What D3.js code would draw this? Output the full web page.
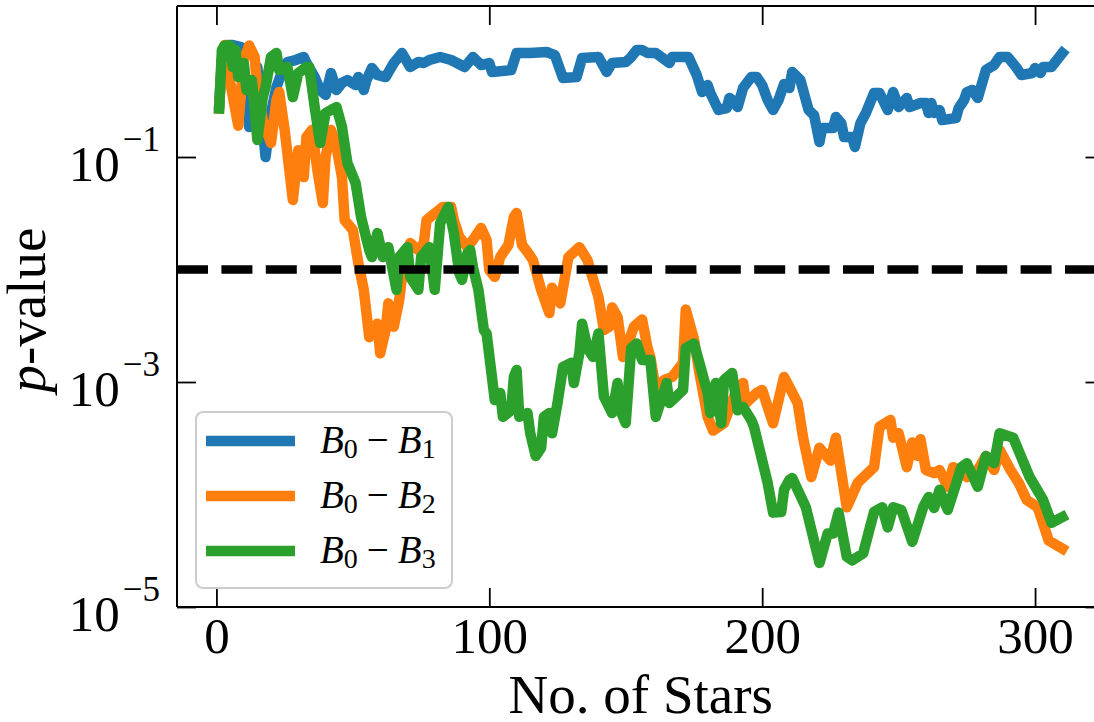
<!DOCTYPE html>
<html>
<head>
<meta charset="utf-8">
<script src="https://cdn.jsdelivr.net/npm/d3@7"></script>
<style>
  html, body { margin: 0; padding: 0; background: #ffffff; }
  svg { display: block; }
</style>
</head>
<body>
<svg id="chart" width="1094" height="722"></svg>
<script>
// p-value of each model comparison as a function of the number of stars used
const b0b1 = [[1,0.29],[2,0.73],[4,0.99],[6,0.99],[9,0.95],[10,0.66],[12,0.185],[13,0.262],[15,0.63],[16,0.321],[18,0.100],[20,0.246],[22,0.419],[24,0.570],[26,0.699],[29,0.728],[32,0.774],[33,0.685],[36,0.514],[38,0.394],[40,0.356],[42,0.558],[44,0.394],[46,0.455],[48,0.483],[51,0.436],[52,0.514],[54,0.394],[55,0.483],[57,0.618],[59,0.536],[62,0.514],[65,0.685],[68,0.84],[71,0.631],[74,0.699],[76,0.685],[78,0.728],[82,0.774],[86,0.728],[91,0.631],[94,0.774],[97,0.657],[100,0.685],[101,0.570],[108,0.593],[110,0.84],[115,0.84],[121,0.858],[124,0.806],[127,0.504],[132,0.514],[134,0.759],[140,0.774],[141,0.699],[143,0.570],[145,0.685],[150,0.699],[152,0.774],[154,0.894],[156,0.894],[158,0.84],[161,0.84],[163,0.774],[166,0.685],[167,0.774],[173,0.774],[176,0.536],[178,0.378],[180,0.436],[181,0.371],[184,0.262],[187,0.272],[188,0.335],[189,0.321],[191,0.278],[193,0.411],[196,0.514],[198,0.514],[200,0.436],[202,0.321],[204,0.262],[206,0.321],[208,0.445],[210,0.411],[211,0.570],[214,0.483],[217,0.262],[219,0.236],[221,0.136],[222,0.181],[226,0.181],[227,0.227],[229,0.2],[230,0.151],[233,0.151],[234,0.123],[236,0.2],[238,0.246],[241,0.371],[243,0.371],[246,0.262],[248,0.378],[250,0.278],[253,0.335],[254,0.278],[258,0.302],[260,0.302],[261,0.246],[262,0.302],[263,0.246],[265,0.262],[266,0.213],[271,0.222],[272,0.272],[274,0.321],[275,0.378],[277,0.394],[279,0.335],[282,0.593],[285,0.657],[287,0.774],[290,0.774],[293,0.631],[295,0.536],[299,0.558],[300,0.618],[302,0.558],[303,0.631],[306,0.631],[308,0.728],[310,0.84]];

const b0b2 = [[1,0.27],[2,0.73],[3,0.99],[4,0.631],[8,0.19],[10,0.728],[12,0.98],[14,0.774],[15,0.394],[17,0.213],[20,0.133],[22,0.321],[23,0.378],[25,0.174],[28,0.0415],[30,0.115],[32,0.0664],[33,0.151],[35,0.174],[37,0.0766],[39,0.039],[40,0.1],[42,0.174],[44,0.123],[46,0.0664],[47,0.0275],[50,0.0224],[52,0.0114],[54,0.0066],[56,0.0025],[59,0.0033],[60,0.0018],[62,0.0029],[63,0.005],[65,0.0031],[67,0.0054],[68,0.0086],[71,0.0172],[74,0.0149],[76,0.0172],[77,0.0275],[83,0.036],[86,0.036],[87,0.0275],[89,0.0195],[92,0.0158],[94,0.0183],[97,0.0234],[99,0.0183],[100,0.0099],[102,0.0086],[104,0.0129],[107,0.0165],[109,0.0293],[110,0.0318],[112,0.0165],[114,0.0143],[116,0.0121],[119,0.0066],[121,0.0048],[122,0.0041],[123,0.0069],[126,0.005],[129,0.0129],[133,0.0158],[136,0.0121],[137,0.0099],[140,0.0057],[142,0.0029],[144,0.0031],[145,0.0046],[147,0.0038],[149,0.00167],[153,0.0031],[156,0.0036],[158,0.002],[159,0.00167],[161,0.00085],[164,0.00104],[167,0.00111],[171,0.00148],[172,0.0044],[175,0.0024],[177,0.0012],[180,0.00049],[182,0.00037],[186,0.00043],[191,0.0009],[193,0.00098],[194,0.00065],[198,0.0008],[200,0.00085],[202,0.0006],[204,0.00043],[206,0.00069],[208,0.00111],[210,0.0009],[213,0.00065],[215,0.00032],[218,0.000143],[221,0.00026],[225,0.0002],[227,0.00032],[231,0.000077],[235,0.000127],[241,0.000175],[243,0.0004],[247,0.00046],[248,0.00032],[250,0.00035],[253,0.000175],[255,0.00029],[257,0.00022],[258,0.00031],[260,0.000165],[263,0.000155],[265,0.000165],[268,0.000117],[270,0.000175],[272,0.000165],[275,0.000143],[279,0.000165],[282,0.00022],[285,0.000165],[287,0.00025],[291,0.000165],[294,0.000127],[297,0.000089],[301,0.000077],[305,0.000039],[310,0.000033]];

const b0b3 = [[1,0.27],[2,0.894],[3,0.98],[5,0.98],[6,0.631],[7,0.894],[8,0.514],[10,0.685],[11,0.394],[13,0.483],[15,0.142],[17,0.341],[18,0.419],[20,0.774],[22,0.84],[23,0.593],[26,0.631],[28,0.341],[30,0.558],[33,0.631],[34,0.631],[36,0.278],[38,0.133],[40,0.246],[42,0.262],[44,0.278],[46,0.185],[48,0.0885],[51,0.0588],[53,0.0293],[56,0.0149],[57,0.0129],[59,0.0211],[61,0.0129],[63,0.0158],[66,0.0066],[67,0.0129],[70,0.0158],[71,0.0086],[74,0.0066],[75,0.0129],[78,0.0158],[80,0.0066],[82,0.0259],[85,0.036],[87,0.0211],[89,0.0093],[90,0.0081],[92,0.014],[93,0.0149],[94,0.0105],[96,0.0066],[98,0.0029],[99,0.0027],[102,0.00069],[104,0.0008],[105,0.00049],[108,0.00056],[109,0.00111],[110,0.00128],[111,0.00049],[114,0.00053],[115,0.00035],[117,0.00022],[119,0.00026],[120,0.00049],[122,0.00053],[123,0.00035],[125,0.00065],[127,0.00136],[130,0.00148],[131,0.00098],[133,0.0018],[134,0.0033],[136,0.002],[138,0.00167],[140,0.0027],[142,0.00074],[145,0.00053],[147,0.00098],[148,0.00056],[150,0.00043],[152,0.002],[154,0.0022],[156,0.00157],[159,0.00157],[161,0.00049],[165,0.00098],[166,0.00065],[171,0.00085],[172,0.002],[175,0.0022],[177,0.00148],[180,0.0008],[181,0.00053],[183,0.00098],[185,0.00043],[186,0.00104],[189,0.0012],[191,0.00056],[193,0.0006],[196,0.00046],[197,0.0004],[202,0.000127],[204,0.000069],[207,0.00007],[208,0.00011],[210,0.000135],[211,0.00014],[216,0.000077],[221,0.0000246],[224,0.000045],[226,0.000045],[228,0.000069],[231,0.000028],[233,0.000026],[237,0.00003],[241,0.00007],[244,0.000077],[246,0.000051],[248,0.000077],[251,0.000073],[255,0.000038],[259,0.000077],[261,0.000095],[263,0.000076],[265,0.00011],[268,0.000073],[273,0.000175],[275,0.00019],[279,0.000117],[282,0.00022],[285,0.00019],[287,0.00035],[292,0.00032],[298,0.000143],[303,0.000089],[306,0.000056],[310,0.000063]];

const seriesSubscripts = ["1", "2", "3"];
const seriesColors = ["#1f77b4", "#ff7f0e", "#2ca02c"];
const xTickValues = [0, 100, 200, 300];
const yTickExponents = [-1, -3, -5];
const significanceLevel = 0.01;

const allSeries = [b0b1, b0b2, b0b3];

const W = 1094, H = 722;
const box = { left: 177, right: 1104.5, top: 6, bottom: 607 };
const serif = "'Liberation Serif', 'Times New Roman', Times, serif";

const svg = d3.select("#chart");

const x = d3.scaleLinear().domain([-14.45, 325.45]).range([box.left, box.right]);
const y = d3.scaleLog().domain([1e-5, 2.2]).range([box.bottom, box.top]);

svg.append("defs").append("clipPath").attr("id", "plot-clip")
  .append("rect")
  .attr("x", box.left).attr("y", box.top)
  .attr("width", box.right - box.left).attr("height", box.bottom - box.top);

// data lines
const line = d3.line().x(d => x(d[0])).y(d => y(d[1]));
const linesG = svg.append("g").attr("clip-path", "url(#plot-clip)");
allSeries.forEach((s, i) => {
  linesG.append("path")
    .datum(s)
    .attr("d", line)
    .attr("fill", "none")
    .attr("stroke", seriesColors[i])
    .attr("stroke-width", 10.5)
    .attr("stroke-linejoin", "round")
    .attr("stroke-linecap", "square");
});

// significance threshold
linesG.append("line")
  .attr("x1", box.left).attr("x2", box.right)
  .attr("y1", y(significanceLevel)).attr("y2", y(significanceLevel))
  .attr("stroke", "#000")
  .attr("stroke-width", 8.4)
  .attr("stroke-dasharray", "31 13.4");

// axes with inward ticks on all four sides
const tickLen = -19;
function styleAxis(g) {
  g.select(".domain").remove();
  g.selectAll(".tick line").attr("stroke", "#000").attr("stroke-width", 1.8);
}

const xBottom = svg.append("g")
  .attr("transform", `translate(0,${box.bottom})`)
  .call(d3.axisBottom(x).tickValues(xTickValues).tickSizeInner(tickLen).tickSizeOuter(0)
        .tickPadding(10).tickFormat(d3.format("d")));
styleAxis(xBottom);
xBottom.selectAll(".tick text")
  .attr("font-family", serif).attr("font-size", 51).attr("fill", "#000");

const xTop = svg.append("g")
  .attr("transform", `translate(0,${box.top})`)
  .call(d3.axisTop(x).tickValues(xTickValues).tickSizeInner(tickLen).tickSizeOuter(0).tickFormat(""));
styleAxis(xTop);

const yTickValues = yTickExponents.map(e => Math.pow(10, e));
const yLeft = svg.append("g")
  .attr("transform", `translate(${box.left},0)`)
  .call(d3.axisLeft(y).tickValues(yTickValues).tickSizeInner(tickLen).tickSizeOuter(0).tickFormat(""));
styleAxis(yLeft);
yLeft.selectAll(".tick text").remove();
yLeft.selectAll(".tick").each(function(d) {
  const e = Math.round(Math.log10(d));
  const t = d3.select(this).append("text")
    .attr("x", -17).attr("y", 23)
    .attr("text-anchor", "end")
    .attr("font-family", serif).attr("font-size", 51).attr("fill", "#000");
  t.append("tspan").text("10");
  t.append("tspan").attr("dx", 3).attr("dy", -30).attr("font-size", 35)
    .text((e < 0 ? "\u2212" : "") + Math.abs(e));
});

const yRight = svg.append("g")
  .attr("transform", `translate(${box.right},0)`)
  .call(d3.axisRight(y).tickValues(yTickValues).tickSizeInner(tickLen).tickSizeOuter(0).tickFormat(""));
styleAxis(yRight);

// axes frame
const frame = svg.append("g").attr("stroke", "#000").attr("stroke-width", 2);
frame.append("line").attr("x1", box.left).attr("x2", box.right).attr("y1", box.top).attr("y2", box.top);
frame.append("line").attr("x1", box.left).attr("x2", box.right).attr("y1", box.bottom).attr("y2", box.bottom);
frame.append("line").attr("x1", box.left).attr("x2", box.left).attr("y1", box.top).attr("y2", box.bottom);
frame.append("line").attr("x1", box.right).attr("x2", box.right).attr("y1", box.top).attr("y2", box.bottom);

// axis titles
svg.append("text")
  .attr("x", (box.left + box.right) / 2).attr("y", 713)
  .attr("text-anchor", "middle")
  .attr("font-family", serif).attr("font-size", 55).attr("fill", "#000")
  .text("No. of Stars");

const yTitle = svg.append("text")
  .attr("transform", "translate(45,310) rotate(-90)")
  .attr("text-anchor", "middle")
  .attr("font-family", serif).attr("font-size", 55).attr("fill", "#000");
yTitle.append("tspan").attr("font-style", "italic").text("p");
yTitle.append("tspan").text("-value");

// legend
const legend = svg.append("g");
legend.append("rect")
  .attr("x", 196).attr("y", 412).attr("width", 256).attr("height", 176)
  .attr("rx", 7).attr("ry", 7)
  .attr("fill", "#ffffff").attr("fill-opacity", 0.8)
  .attr("stroke", "#cccccc").attr("stroke-width", 2);

seriesSubscripts.forEach((sub, i) => {
  const cy = 441 + 55 * i;
  legend.append("line")
    .attr("x1", 206).attr("x2", 295).attr("y1", cy).attr("y2", cy)
    .attr("stroke", seriesColors[i]).attr("stroke-width", 10.5);
  const t = legend.append("text")
    .attr("x", 320).attr("y", cy + 12)
    .attr("font-family", serif).attr("font-size", 39).attr("fill", "#000");
  t.append("tspan").attr("font-style", "italic").text("B");
  t.append("tspan").attr("font-size", 28).attr("dy", 5).text("0");
  t.append("tspan").attr("dy", -5).attr("dx", 9).text("\u2212");
  t.append("tspan").attr("dx", 9).attr("font-style", "italic").text("B");
  t.append("tspan").attr("font-size", 28).attr("dy", 5).text(sub);
});
</script>
</body>
</html>
